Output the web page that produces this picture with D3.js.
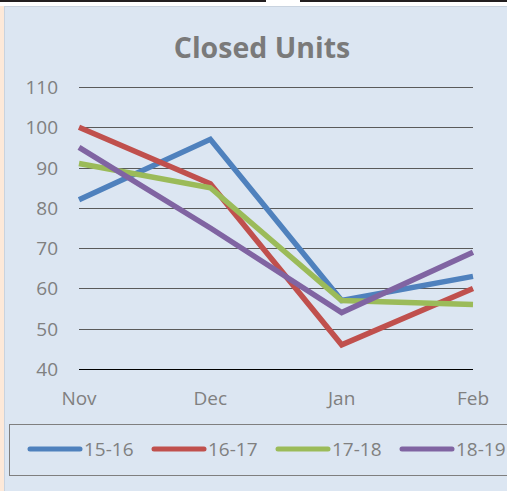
<!DOCTYPE html>
<html>
<head>
<meta charset="utf-8">
<script src="https://cdn.jsdelivr.net/npm/d3@7"></script>
<style>
  html, body { margin: 0; padding: 0; background: #ffffff; }
  svg { display: block; }
</style>
</head>
<body>
<script>
const WIDTH = 507;
const HEIGHT = 491;

// Datos
const meses = ["Nov", "Dec", "Jan", "Feb"];
const temporadas = ["15-16", "16-17", "17-18", "18-19"];
const valores1516 = [82, 97, 57, 63];
const valores1617 = [100, 86, 46, 60];
const valores1718 = [91, 85, 57, 56];
const valores1819 = [95, 75, 54, 69];
const ticksY = [40, 50, 60, 70, 80, 90, 100, 110];
const colores = ["#4f81bd", "#c0504d", "#9bbb59", "#8064a2"];

const series = [valores1516, valores1617, valores1718, valores1819];

const svg = d3
  .select("body")
  .append("svg")
  .attr("width", WIDTH)
  .attr("height", HEIGHT);

// Bordes de la hoja de calculo detras del grafico
svg.append("rect").attr("x", 0).attr("y", 0).attr("width", 266).attr("height", 2).attr("fill", "#231f20");
svg.append("rect").attr("x", 300).attr("y", 0).attr("width", 207).attr("height", 2).attr("fill", "#231f20");
svg.append("rect").attr("x", 0).attr("y", 6).attr("width", 5).attr("height", HEIGHT).attr("fill", "#fde9d9");

// Fondo del grafico
svg.append("rect")
  .attr("x", 4.5).attr("y", 6.5)
  .attr("width", WIDTH).attr("height", HEIGHT)
  .attr("fill", "#dce6f2")
  .attr("stroke", "#c9d3df");

// Titulo
svg.append("text")
  .attr("x", 262)
  .attr("y", 58)
  .attr("text-anchor", "middle")
  .attr("font-family", "'Open Sans', sans-serif")
  .attr("font-weight", "bold")
  .attr("font-size", 28.5)
  .attr("fill", "#7a7a7a")
  .text("Closed Units");

// Escalas
const x = d3.scalePoint().domain(meses).range([79, 473]);
const y = d3.scaleLinear().domain([40, 110]).range([369, 87]);

// Lineas de grilla
svg.selectAll("line.grid")
  .data(ticksY)
  .join("line")
  .attr("class", "grid")
  .attr("x1", 79).attr("x2", 473)
  .attr("y1", (d) => Math.round(y(d)) + 0.5)
  .attr("y2", (d) => Math.round(y(d)) + 0.5)
  .attr("stroke", (d) => (d === 40 ? "#000000" : "#5a5a5a"))
  .attr("stroke-width", 1);

// Etiquetas del eje Y
svg.selectAll("text.ytick")
  .data(ticksY)
  .join("text")
  .attr("class", "ytick")
  .attr("x", 58)
  .attr("y", (d) => y(d) + 7)
  .attr("text-anchor", "end")
  .attr("font-family", "'Open Sans', sans-serif")
  .attr("font-size", 19)
  .attr("fill", "#808080")
  .text((d) => d);

// Etiquetas del eje X
svg.selectAll("text.xtick")
  .data(meses)
  .join("text")
  .attr("class", "xtick")
  .attr("x", (d) => x(d))
  .attr("y", 405)
  .attr("text-anchor", "middle")
  .attr("font-family", "'Open Sans', sans-serif")
  .attr("font-size", 19)
  .attr("fill", "#808080")
  .text((d) => d);

// Lineas de cada temporada
const linea = d3.line()
  .x((d, i) => x(meses[i]))
  .y((d) => y(d));

svg.selectAll("path.serie")
  .data(series)
  .join("path")
  .attr("class", "serie")
  .attr("d", linea)
  .attr("fill", "none")
  .attr("stroke", (d, i) => colores[i])
  .attr("stroke-width", 5.5);

// Leyenda
svg.append("rect")
  .attr("x", 9.5).attr("y", 424.5)
  .attr("width", 520).attr("height", 51)
  .attr("fill", "none")
  .attr("stroke", "#7f7f7f");

const leyenda = svg.selectAll("g.leyenda")
  .data(temporadas)
  .join("g")
  .attr("class", "leyenda")
  .attr("transform", (d, i) => `translate(${30 + i * 124},449)`);

leyenda.append("line")
  .attr("x1", 0).attr("x2", 50)
  .attr("stroke", (d, i) => colores[i])
  .attr("stroke-width", 5)
  .attr("stroke-linecap", "round");

leyenda.append("text")
  .attr("x", 54)
  .attr("y", 7)
  .attr("font-family", "'Open Sans', sans-serif")
  .attr("font-size", 19)
  .attr("fill", "#808080")
  .text((d) => d);
</script>
</body>
</html>
